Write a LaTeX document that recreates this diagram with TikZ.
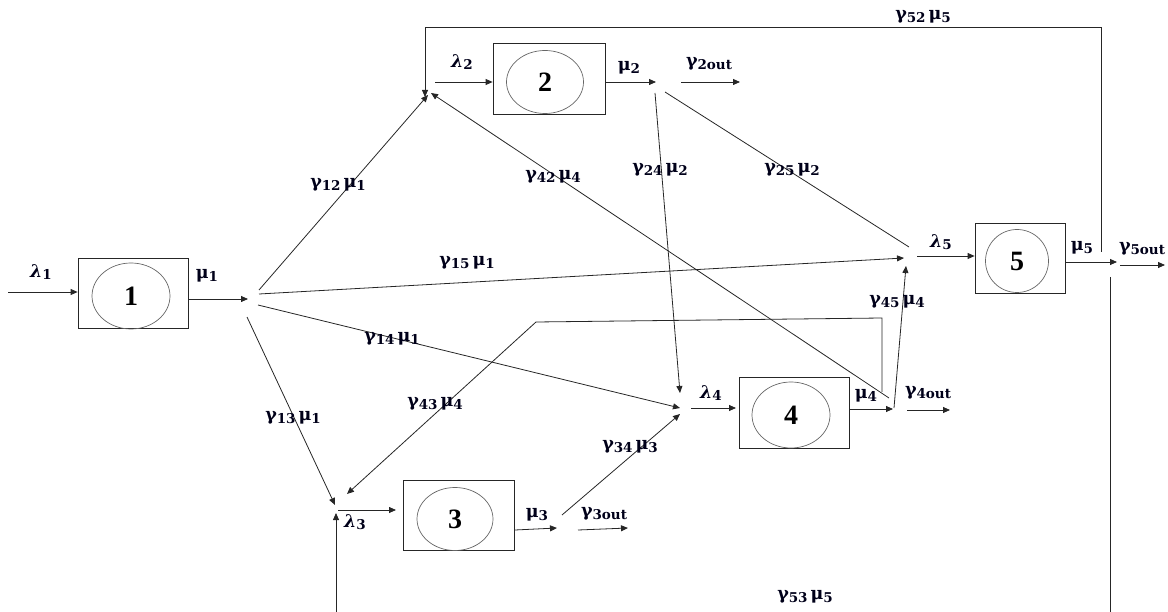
\documentclass[tikz,border=0pt]{standalone}
\usepackage{fontspec}
\setmainfont{DejaVu Serif}
\newfontfamily\numfont{Liberation Serif}
\usetikzlibrary{arrows.meta,shapes.geometric}

% symbol with a lowered subscript
\newcommand{\sy}[2]{#1\raisebox{-0.3ex}{\fontsize{13.5}{13.5}\selectfont #2}}
\newcommand{\lam}[1]{\sy{\textit{λ}}{#1}}
\newcommand{\mug}[1]{\sy{μ}{#1}}
\newcommand{\gam}[1]{\sy{γ}{#1}}

\tikzset{
  queue/.style={draw=black!85, line width=0.8pt, rectangle, inner sep=0pt},
  server/.style={draw=black!60, line width=0.7pt, ellipse, inner sep=0pt,
    font=\numfont\fontsize{28}{28}\selectfont\bfseries},
  flow/.style={draw=black!85, line width=0.8pt, -{Triangle[length=7pt,width=6pt]}},
  link/.style={draw=black!85, line width=0.8pt},
  lab/.style={font=\fontsize{17.5}{17.5}\selectfont\bfseries, text=black!90!blue, inner sep=0pt}
}

\begin{document}
\begin{tikzpicture}[x=1pt,y=-1pt]
\useasboundingbox (0,0) rectangle (1168,612);

% stations
\node[queue, minimum width=110pt, minimum height=70pt] (b1) at (133,293) {};
\node[server, minimum width=78pt, minimum height=66pt] (s1) at (131,296) {1};
\node[queue, minimum width=112pt, minimum height=71pt] (b2) at (549,78.5) {};
\node[server, minimum width=77pt, minimum height=63pt] (s2) at (545,82) {2};
\node[queue, minimum width=111pt, minimum height=70pt] (b3) at (458.5,515) {};
\node[server, minimum width=76pt, minimum height=63pt] (s3) at (455,519) {3};
\node[queue, minimum width=110pt, minimum height=71pt] (b4) at (794,412.5) {};
\node[server, minimum width=78pt, minimum height=66pt] (s4) at (791,415) {4};
\node[queue, minimum width=90pt, minimum height=70pt] (b5) at (1020,258) {};
\node[server, minimum width=63pt, minimum height=63pt] (s5) at (1017,261) {5};

% junction points
\coordinate (src1) at (8,292);
\coordinate (o1) at (248,299);
\coordinate (j12) at (259,290);
\coordinate (j15) at (259,294);
\coordinate (j14) at (258,305);
\coordinate (j13) at (247,317);
\coordinate (in2) at (428,95);
\coordinate (in2b) at (431,93);
\coordinate (i2) at (435,82);
\coordinate (o2) at (656,82);
\coordinate (x2a) at (681,82);
\coordinate (x2b) at (740,82);
\coordinate (j24) at (655,93);
\coordinate (j25) at (665,92);
\coordinate (e25) at (909,247);
\coordinate (in3) at (335,505);
\coordinate (in3b) at (347,494);
\coordinate (i3) at (338,510);
\coordinate (t3) at (396,510);
\coordinate (o3s) at (515,530);
\coordinate (o3) at (557,528);
\coordinate (x3a) at (578,530);
\coordinate (x3b) at (628,528);
\coordinate (j34) at (562,515);
\coordinate (in4) at (680,408);
\coordinate (in4a) at (680,393);
\coordinate (in4b) at (680,414);
\coordinate (i4) at (691,408);
\coordinate (t4) at (736,408);
\coordinate (o4s) at (849,409);
\coordinate (o4) at (893,409);
\coordinate (x4a) at (907,410);
\coordinate (x4b) at (950,410);
\coordinate (j45) at (894,408);
\coordinate (j42) at (889,398);
\coordinate (j43) at (882,392);
\coordinate (in5) at (904,258);
\coordinate (in5b) at (906,266);
\coordinate (i5) at (917,256);
\coordinate (o5s) at (1065,262);
\coordinate (o5) at (1117,262);
\coordinate (x5a) at (1120,265);
\coordinate (x5b) at (1165,265);
\coordinate (j52) at (1101,252);
\coordinate (j53) at (1110,277);
\coordinate (bot53) at (1110,612);
\coordinate (bot3) at (336,612);
\coordinate (in3c) at (336,513);

% station 1
\draw[flow] (src1) -- (b1.west |- src1);
\draw[flow] (b1.east |- o1) -- (o1);
\draw[flow] (j12) -- (in2);
\draw[flow] (j15) -- (in5);
\draw[flow] (j14) -- (in4);
\draw[flow] (j13) -- (in3);

% station 2
\draw[flow] (i2) -- (b2.west |- i2);
\draw[flow] (b2.east |- o2) -- (o2);
\draw[flow] (x2a) -- (x2b);
\draw[flow] (j24) -- (in4a);
\draw[link] (j25) -- (e25);

% station 3
\draw[flow] (i3) -- (t3);
\draw[flow] (o3s) -- (o3);
\draw[flow] (x3a) -- (x3b);
\draw[flow] (j34) -- (in4b);

% station 4
\draw[flow] (i4) -- (t4);
\draw[flow] (o4s) -- (o4);
\draw[flow] (x4a) -- (x4b);
\draw[flow] (j45) -- (in5b);
\draw[flow] (j42) -- (in2b);
\draw[flow] (j43) -- (882,318) -- (536,322) -- (in3b);

% station 5
\draw[flow] (i5) -- (b5.west |- i5);
\draw[flow] (o5s) -- (o5);
\draw[flow] (x5a) -- (x5b);
\draw[flow] (j52) -- (1101,27) -- (425,27) -- (425,97);
\draw[link] (j53) -- (bot53);
\draw[flow] (bot3) -- (in3c);

% labels
\node[lab] (l1) at (41,272) {\lam{1}};
\node[lab] (m1) at (207,276) {\mug{1}};
\node[lab] (l2) at (462,62) {\lam{2}};
\node[lab] (m2) at (629,68) {\mug{2}};
\node[lab] (g2) at (709,64) {\gam{2out}};
\node[lab] (l3) at (355,522) {\lam{3}};
\node[lab] (m3) at (537,515) {\mug{3}};
\node[lab] (g3) at (604,514) {\gam{3out}};
\node[lab] (l4) at (711,393) {\lam{4}};
\node[lab] (m4) at (866,396) {\mug{4}};
\node[lab] (g4) at (928,393) {\gam{4out}};
\node[lab] (l5) at (941,242) {\lam{5}};
\node[lab] (m5) at (1082,248) {\mug{5}};
\node[lab] (g5) at (1142,249) {\gam{5out}};
\node[lab] (g12) at (338,185) {\gam{12}\,\mug{1}};
\node[lab] (g42) at (553,177) {\gam{42}\,\mug{4}};
\node[lab] (g24) at (660,170) {\gam{24}\,\mug{2}};
\node[lab] (g25) at (792,170) {\gam{25}\,\mug{2}};
\node[lab] (g15) at (467,263) {\gam{15}\,\mug{1}};
\node[lab] (g14) at (392,339) {\gam{14}\,\mug{1}};
\node[lab] (g43) at (435,404) {\gam{43}\,\mug{4}};
\node[lab] (g13) at (293,418) {\gam{13}\,\mug{1}};
\node[lab] (g34) at (630,447) {\gam{34}\,\mug{3}};
\node[lab] (g45) at (897,302) {\gam{45}\,\mug{4}};
\node[lab] (g52) at (923,17) {\gam{52}\,\mug{5}};
\node[lab] (g53) at (805,597) {\gam{53}\,\mug{5}};
\end{tikzpicture}
\end{document}
